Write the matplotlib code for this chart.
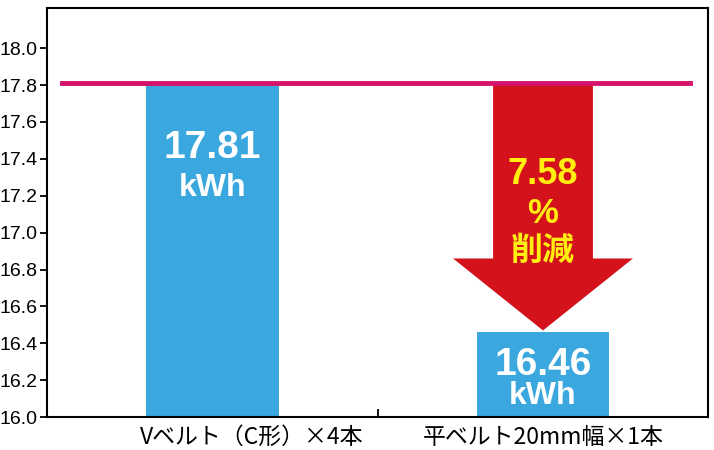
import matplotlib.pyplot as plt
import numpy as np

plt.rcParams['font.family'] = ['Noto Sans CJK JP', 'DejaVu Sans']

categories = ['Vベルト（C形）×4本', '平ベルト20mm幅×1本']
values = [17.81, 16.46]
value_numbers = ['17.81', '16.46']
unit = 'kWh'
reduction_lines = ['7.58', '%', '削減']

blue = '#3ba7df'
red = '#d4121c'
line_color = '#d6136a'
yellow = '#ffee10'
latin = ['Liberation Sans', 'DejaVu Sans']

fig = plt.figure(figsize=(7.14, 4.5), dpi=100)
ax = fig.add_axes([0.066, 0.073, 0.926, 0.909])

x = np.arange(len(categories))
ax.bar(x, np.array(values) - 16.0, bottom=16.0, width=0.40, color=blue, zorder=2)

# reference line at the V-belt value
ax.plot([-0.455, 1.445], [values[0], values[0]], color=line_color, lw=3.5, zorder=4)

# reduction arrow from the reference line down to the flat belt bar
cx = x[1]
shaft_w, head_w = 0.151, 0.272
head_top = values[1] + 0.40
tip = values[1] + 0.01
poly_x = [cx - shaft_w, cx + shaft_w, cx + shaft_w, cx + head_w, cx, cx - head_w, cx - shaft_w]
poly_y = [values[0], values[0], head_top, head_top, tip, head_top, head_top]
ax.fill(poly_x, poly_y, color=red, zorder=3, lw=0)

# value labels inside the bars
ax.text(x[0], 17.458, value_numbers[0], ha='center', va='center', color='white',
        fontsize=28, fontweight='bold', family=latin, zorder=5)
ax.text(x[0], 17.24, unit, ha='center', va='center', color='white',
        fontsize=23, fontweight='bold', family=latin, zorder=5)
ax.text(x[1], 16.285, value_numbers[1], ha='center', va='center', color='white',
        fontsize=28, fontweight='bold', family=latin, zorder=5)
ax.text(x[1], 16.115, unit, ha='center', va='center', color='white',
        fontsize=23, fontweight='bold', family=latin, zorder=5)

# reduction text on the arrow
ax.text(cx, 17.317, reduction_lines[0], ha='center', va='center', color=yellow,
        fontsize=26, fontweight='bold', family=latin, zorder=5)
ax.text(cx, 17.106, reduction_lines[1], ha='center', va='center', color=yellow,
        fontsize=25, fontweight='bold', family=latin, zorder=5)
ax.text(cx, 16.90, reduction_lines[2], ha='center', va='center', color=yellow,
        fontsize=23, fontweight='bold', zorder=5)

ax.set_xlim(-0.5, 1.5)
ax.set_ylim(16.0, 18.217)
yt = np.arange(16.0, 18.01, 0.2)
ax.set_yticks(yt)
ax.set_yticklabels([f'{v:.1f}' for v in yt], family=latin)
ax.tick_params(axis='y', direction='out', length=5, width=1.3, labelsize=14, pad=2)

ax.set_xticks([0.5])
ax.set_xticklabels([''])
ax.tick_params(axis='x', direction='in', length=6, width=1.3)
label_shift = [0.12, 0.0]
for xi, lab, sh in zip(x, categories, label_shift):
    ax.text(xi + sh, -0.022, lab, transform=ax.get_xaxis_transform(), ha='center', va='top',
            fontsize=16.5)

for s in ax.spines.values():
    s.set_linewidth(1.5)

fig.savefig('out.png', dpi=100)
